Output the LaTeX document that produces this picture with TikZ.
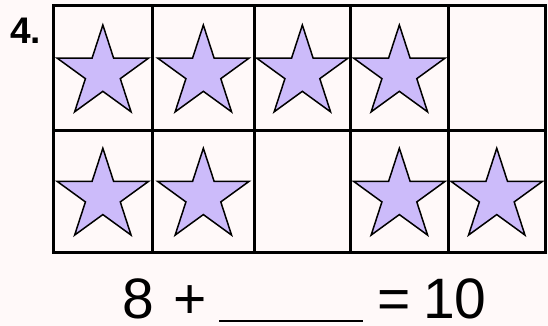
\documentclass[tikz,border=0pt]{standalone}
\usepackage{fontspec}
\setmainfont{Liberation Sans}
\usepackage{tikz}
\usetikzlibrary{shapes.geometric, positioning}
\definecolor{pagecolor}{RGB}{255, 249, 249}
\definecolor{starcolor}{RGB}{204, 187, 250}

\begin{document}
\begin{tikzpicture}[
    x=1pt, y=-1pt,
    gridline/.style={line width=3pt, black},
    starnode/.style={star, star points=5, star point ratio=2.618, minimum size=96pt,
        inner sep=0pt, outer sep=0pt, fill=starcolor, draw=black, line width=1.5pt, line join=miter},
    eqtext/.style={font=\fontsize{57}{57}\selectfont, inner sep=0pt, anchor=base},
]
    \fill[pagecolor] (0,0) rectangle (548,326);
    \useasboundingbox (0,0) rectangle (548,326);
    % number of the exercise
    \node[font=\bfseries\fontsize{37}{37}\selectfont, inner sep=0pt, anchor=base west] (num) at (10,44) {4.};
    % ten frame
    \draw[gridline] (53,6) rectangle (545.5,252.5);
    \draw[gridline] (53,130) -- (545.5,130);
    \foreach \x in {152.7, 254, 350.7, 448} {
        \draw[gridline] (\x,6) -- (\x,252.5);
    }
    \foreach \c/\xa/\xb in {1/53/152.7, 2/152.7/254, 3/254/350.7, 4/350.7/448, 5/448/545.5} {
        \foreach \r/\ya/\yb/\gap in {1/6/130/5, 2/130/252.5/3} {
            \ifnum\c=\gap
            \else
                \node[starnode] (star-\r-\c) at ({(\xa+\xb)/2}, {(\ya+\yb)/2+5}) {};
            \fi
        }
    }
    % equation
    \node[eqtext] (eight) at (138,318) {8};
    \node[eqtext] (plus) at (190,318) {+};
    \coordinate (blank-l) at (219,321);
    \coordinate (blank-r) at (363,321);
    \draw[line width=2pt] (blank-l) -- (blank-r);
    \node[eqtext] (equals) at (394,318) {=};
    \node[eqtext] (ten) at (455,318) {10};
\end{tikzpicture}
\end{document}
